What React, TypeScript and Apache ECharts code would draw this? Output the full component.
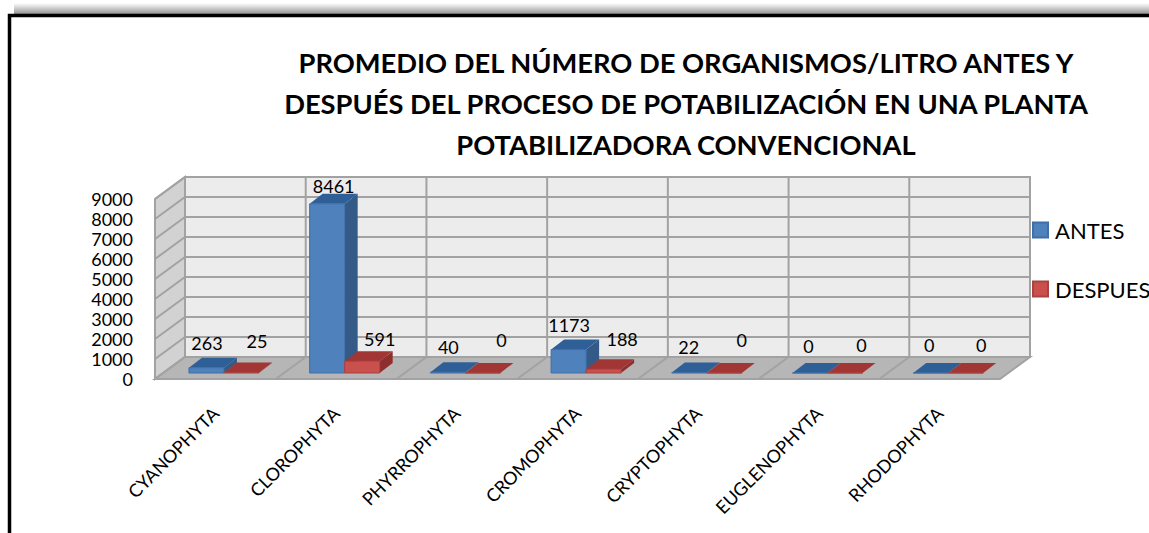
import React, { useEffect, useRef } from "react";
import * as echarts from "echarts";

const titleLines = [
  "PROMEDIO DEL NÚMERO DE ORGANISMOS/LITRO ANTES Y",
  "DESPUÉS DEL PROCESO DE POTABILIZACIÓN EN UNA PLANTA",
  "POTABILIZADORA CONVENCIONAL",
];
const categories = ["CYANOPHYTA", "CLOROPHYTA", "PHYRROPHYTA", "CROMOPHYTA", "CRYPTOPHYTA", "EUGLENOPHYTA", "RHODOPHYTA"];
const antes = [263, 8461, 40, 1173, 22, 0, 0];
const despues = [25, 591, 0, 188, 0, 0, 0];
const yTicks = [0, 1000, 2000, 3000, 4000, 5000, 6000, 7000, 8000, 9000];

// label nudges relative to the bar tops
const antesNudge = [[-6, 0], [0, 7], [-6, 0], [-6, 0], [-7, -1], [-8, -2], [-8, -3]];
const despuesNudge = [[9, -7], [11, 3], [12, -8], [12, -5], [11, -8], [10, -3], [9, -3]];

const WALL_DX = 30;
const WALL_DY = -22;
const BAR_OFFSET_X = 8.6;
const BAR_OFFSET_Y = -6;
const BAR_DX = 13;
const BAR_DY = -10;
const BAR_BAND = 0.29;

const COLORS = {
  wall: "#ececec",
  side: "#d2d2d2",
  floor: "#b6b6b6",
  line: "#a2a2a2",
  blue: { front: "#4f81bd", top: "#2f5f97", side: "#345a88", edge: "#3f6ea8" },
  red: { front: "#c9504c", top: "#a13634", side: "#8f2f2d", edge: "#a84341" },
};

function shell(params: any, api: any) {
  const cs = params.coordSys;
  const x0 = cs.x;
  const x1 = cs.x + cs.width;
  const yb = cs.y + cs.height;
  const yt = cs.y;
  const lineStyle = { stroke: COLORS.line, lineWidth: 2, fill: "none" };
  const children: any[] = [
    { type: "polygon", shape: { points: [[x0 + WALL_DX, yt + WALL_DY], [x1 + WALL_DX, yt + WALL_DY], [x1 + WALL_DX, yb + WALL_DY], [x0 + WALL_DX, yb + WALL_DY]] }, style: { fill: COLORS.wall, stroke: COLORS.line, lineWidth: 2 } },
    { type: "polygon", shape: { points: [[x0, yt], [x0 + WALL_DX, yt + WALL_DY], [x0 + WALL_DX, yb + WALL_DY], [x0, yb]] }, style: { fill: COLORS.side, stroke: COLORS.line, lineWidth: 2 } },
    { type: "polygon", shape: { points: [[x0, yb], [x1, yb], [x1 + WALL_DX, yb + WALL_DY], [x0 + WALL_DX, yb + WALL_DY]] }, style: { fill: COLORS.floor, stroke: COLORS.line, lineWidth: 2 } },
  ];
  yTicks.forEach((t) => {
    const y = api.coord([0, t])[1];
    children.push({ type: "line", shape: { x1: x0, y1: y, x2: x0 + WALL_DX, y2: y + WALL_DY }, style: lineStyle });
    children.push({ type: "line", shape: { x1: x0 + WALL_DX, y1: y + WALL_DY, x2: x1 + WALL_DX, y2: y + WALL_DY }, style: lineStyle });
  });
  const band = cs.width / categories.length;
  categories.forEach((_, i) => {
    if (i === 0) return;
    const x = x0 + band * i;
    children.push({ type: "line", shape: { x1: x + WALL_DX, y1: yt + WALL_DY, x2: x + WALL_DX, y2: yb + WALL_DY }, style: lineStyle });
    children.push({ type: "line", shape: { x1: x, y1: yb, x2: x + WALL_DX, y2: yb + WALL_DY }, style: lineStyle });
  });
  return { type: "group", children };
}

function bars(which: 0 | 1, palette: typeof COLORS.blue, nudges: number[][]) {
  return (params: any, api: any) => {
    const cat = api.value(0);
    const val = api.value(1);
    const top = api.coord([cat, val]);
    const base = api.coord([cat, 0]);
    const w = api.size([1, 0])[0] * BAR_BAND;
    const xl = base[0] + BAR_OFFSET_X + (which === 0 ? -w : 0);
    const xr = xl + w;
    const yb = base[1] + BAR_OFFSET_Y;
    const yt = top[1] + BAR_OFFSET_Y;
    const n = nudges[params.dataIndex];
    return {
      type: "group",
      children: [
        { type: "polygon", shape: { points: [[xr, yt], [xr + BAR_DX, yt + BAR_DY], [xr + BAR_DX, yb + BAR_DY], [xr, yb]] }, style: { fill: palette.side } },
        { type: "polygon", shape: { points: [[xl, yt], [xr, yt], [xr + BAR_DX, yt + BAR_DY], [xl + BAR_DX, yt + BAR_DY]] }, style: { fill: palette.top } },
        { type: "rect", shape: { x: xl, y: yt, width: w, height: yb - yt }, style: { fill: palette.front, stroke: palette.edge, lineWidth: 1 } },
        {
          type: "text",
          style: {
            x: (xl + xr) / 2 + BAR_DX / 2 + n[0],
            y: yt + BAR_DY - 15 + n[1],
            text: String(val),
            fill: "#000",
            font: "18px Lato",
            align: "center",
            verticalAlign: "middle",
          },
        },
      ],
    };
  };
}

export default function App() {
  const ref = useRef<HTMLDivElement>(null);
  useEffect(() => {
    const chart = echarts.init(ref.current!, undefined, { renderer: "svg" });
    chart.setOption({
      animation: false,
      backgroundColor: "#ffffff",
      title: {
        text: titleLines.join("\n"),
        left: 681,
        top: 37,
        textAlign: "center",
        textStyle: { fontFamily: "Lato", fontWeight: "bold", fontSize: 27.3, lineHeight: 41, color: "#000" },
      },
      legend: {
        orient: "vertical",
        left: 1032,
        top: 219,
        padding: 0,
        icon: "rect",
        itemWidth: 15,
        itemHeight: 15,
        itemGap: 37,
        data: ["ANTES", "DESPUES"],
        textStyle: { fontFamily: "Lato", fontSize: 22, color: "#000", padding: [0, 0, 0, 2] },
        selectedMode: false,
      },
      grid: { left: 155, top: 199, width: 845, height: 180, containLabel: false },
      xAxis: {
        type: "category",
        data: categories,
        axisLine: { show: false },
        axisTick: { show: false },
        splitLine: { show: false },
        axisLabel: { interval: 0, rotate: 45, margin: 31, fontFamily: "Lato", fontSize: 18, color: "#000" },
      },
      yAxis: {
        type: "value",
        min: 0,
        max: 9000,
        interval: 1000,
        axisLine: { show: false },
        axisTick: { show: false },
        splitLine: { show: false },
        axisLabel: { margin: 22, fontFamily: "Lato", fontSize: 18, color: "#000", formatter: (v: number) => String(v) },
      },
      graphic: [
        { type: "rect", shape: { x: 14, y: 3, width: 1135, height: 11 }, z: -1, style: { fill: new echarts.graphic.LinearGradient(0, 0, 0, 1, [{ offset: 0, color: "rgba(120,120,120,0)" }, { offset: 1, color: "rgba(110,110,110,0.75)" }]) } },
        { type: "rect", shape: { x: 9.5, y: 15.5, width: 1300, height: 700 }, z: -1, style: { fill: "none", stroke: "#000", lineWidth: 3.5 } },
      ],
      series: [
        { type: "custom", name: "shell", silent: true, data: [[0, 0]], encode: { x: 0, y: 1 }, renderItem: shell, z: 1 },
        { type: "custom", name: "ANTES", silent: true, data: antes.map((v, i) => [i, v]), encode: { x: 0, y: 1 }, renderItem: bars(0, COLORS.blue, antesNudge), itemStyle: { color: COLORS.blue.front, borderColor: COLORS.blue.edge, borderWidth: 1 }, z: 2 },
        { type: "custom", name: "DESPUES", silent: true, data: despues.map((v, i) => [i, v]), encode: { x: 0, y: 1 }, renderItem: bars(1, COLORS.red, despuesNudge), itemStyle: { color: COLORS.red.front, borderColor: COLORS.red.edge, borderWidth: 1 }, z: 3 },
      ],
    });
    return () => chart.dispose();
  }, []);
  return <div ref={ref} style={{ position: "absolute", left: 0, top: 0, width: 1149, height: 533, overflow: "hidden" }} />;
}
